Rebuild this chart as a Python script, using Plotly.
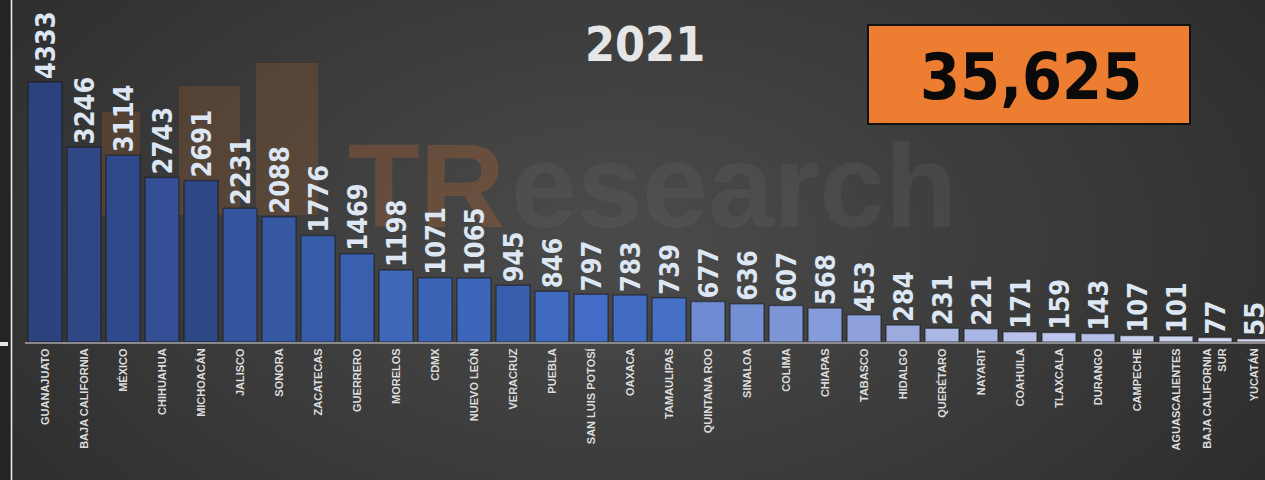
import plotly.graph_objects as go

# ---------------- data ----------------
estados = ["GUANAJUATO", "BAJA CALIFORNIA", "MÉXICO", "CHIHUAHUA", "MICHOACÁN",
           "JALISCO", "SONORA", "ZACATECAS", "GUERRERO", "MORELOS", "CDMX",
           "NUEVO LEÓN", "VERACRUZ", "PUEBLA", "SAN LUIS POTOSÍ", "OAXACA",
           "TAMAULIPAS", "QUINTANA ROO", "SINALOA", "COLIMA", "CHIAPAS",
           "TABASCO", "HIDALGO", "QUERÉTARO", "NAYARIT", "COAHUILA", "TLAXCALA",
           "DURANGO", "CAMPECHE", "AGUASCALIENTES", "BAJA CALIFORNIA<br>SUR",
           "YUCATÁN"]
homicidios = [4333, 3246, 3114, 2743, 2691, 2231, 2088, 1776, 1469, 1198, 1071,
              1065, 945, 846, 797, 783, 739, 677, 636, 607, 568, 453, 284, 231,
              221, 171, 159, 143, 107, 101, 77, 55]
anio = "2021"

# ---------------- style ----------------
bar_colors = ["#2c427c", "#2f4785", "#30498c", "#344f96", "#2e4785",
              "#35559e", "#3658a3", "#385ca8", "#3a5fae", "#3f67b8",
              "#3c64b6", "#3d66ba", "#3a5eae", "#4069c0", "#426cc5",
              "#426bc2", "#466fc6", "#6f8bd2", "#7390d4", "#7e96d7",
              "#869cda", "#8ea1da", "#9cabdd", "#abb7e3", "#aab6e3",
              "#b8c2ea", "#bcc5eb", "#b4bee8", "#c8d0ef", "#cdd4f0",
              "#d5dbf3", "#dce1f5"]
COND = "DejaVu Sans Condensed, DejaVu Sans, sans-serif"

W, H = 1265, 480
L, R, T, B = 25, 0, 0, 138
pw, ph = W - L - R, H - T - B


def px(x):
    return (x - L) / pw


def py(y):
    return (H - B - y) / ph


fig = go.Figure()
fig.add_trace(go.Bar(
    x=estados, y=homicidios,
    marker=dict(color=bar_colors, line=dict(color="rgba(25,25,25,0.55)", width=1.5)),
    text=[str(v) for v in homicidios],
    textposition="outside", textangle=-90,
    textfont=dict(family=COND, size=27, color="#dde6f3", weight="bold"),
    constraintext="none", cliponaxis=False,
    hoverinfo="x+y",
))

shapes = []
# background glow
n = 30
for i in range(n):
    f = 1 - i / n
    cx, cy = 620, 240
    rx, ry = 780 * f + 40, 440 * f + 30
    shapes.append(dict(type="circle", xref="paper", yref="paper", layer="below",
                       x0=px(cx - rx), x1=px(cx + rx), y0=py(cy + ry), y1=py(cy - ry),
                       fillcolor="rgba(255,255,255,0.0085)", line=dict(width=0)))
# logo watermark bars
for (x0, x1, y0) in [(102, 140, 112), (179, 240, 86), (256, 318, 63)]:
    shapes.append(dict(type="rect", xref="paper", yref="paper", layer="below",
                       x0=px(x0), x1=px(x1), y0=py(215), y1=py(y0),
                       fillcolor="rgba(175,100,45,0.24)", line=dict(width=0)))
# watermark text
shapes.append(dict(type="rect", xref="paper", yref="paper", layer="below",
                   x0=px(200), x1=px(508), y0=py(250), y1=py(100),
                   fillcolor="rgba(0,0,0,0)", line=dict(width=0),
                   label=dict(text="TR", textposition="middle right", padding=0,
                              font=dict(family="Liberation Sans, Arial, sans-serif", size=118,
                                        color="rgba(175,100,50,0.34)", weight="bold"))))
shapes.append(dict(type="rect", xref="paper", yref="paper", layer="below",
                   x0=px(508), x1=px(1100), y0=py(250), y1=py(100),
                   fillcolor="rgba(0,0,0,0)", line=dict(width=0),
                   label=dict(text="esearch", textposition="middle left", padding=0,
                              font=dict(family="Liberation Sans, Arial, sans-serif", size=118,
                                        color="rgba(110,110,110,0.20)", weight="bold"))))
# left strip + white line
shapes.append(dict(type="rect", xref="paper", yref="paper", layer="above",
                   x0=px(0), x1=px(11), y0=py(H), y1=py(0),
                   fillcolor="#242424", line=dict(width=0)))
shapes.append(dict(type="line", xref="paper", yref="paper", layer="above",
                   x0=px(11.5), x1=px(11.5), y0=py(H), y1=py(0),
                   line=dict(color="#f0f0f0", width=1.5)))
shapes.append(dict(type="rect", xref="paper", yref="paper", layer="above",
                   x0=px(0), x1=px(8), y0=py(346), y1=py(342),
                   fillcolor="#dfe8dc", line=dict(width=0)))
# total box
shapes.append(dict(type="rect", xref="paper", yref="paper", layer="above",
                   x0=px(868), x1=px(1190), y0=py(124), y1=py(25),
                   fillcolor="#ed7d31", line=dict(color="#111111", width=2)))

annotations = [
    dict(text=anio, xref="paper", yref="paper", x=px(645), y=py(44),
         xanchor="center", yanchor="middle", showarrow=False,
         font=dict(family=COND, size=48, color="#e6e6e6", weight="bold")),
    dict(text=f"{sum(homicidios):,}", xref="paper", yref="paper", x=px(1031), y=py(77),
         xanchor="center", yanchor="middle", showarrow=False,
         font=dict(family=COND, size=64, color="#0a0a0a", weight="bold")),
]

x_lo = (L - 45) / 39
x_hi = (W - 45) / 39
fig.update_layout(
    width=W, height=H,
    margin=dict(l=L, r=R, t=T, b=B, pad=0),
    paper_bgcolor="#2b2b2b", plot_bgcolor="rgba(0,0,0,0)",
    showlegend=False, bargap=5 / 39,
    shapes=shapes, annotations=annotations,
    xaxis=dict(range=[x_lo, x_hi], tickangle=-90, showgrid=False, zeroline=False,
               showline=True, linecolor="#8a8a8a", linewidth=2, ticks="",
               tickfont=dict(family="Liberation Sans, Arial, sans-serif", size=11,
                             color="#dcdcdc", weight="bold"),
               fixedrange=True),
    yaxis=dict(range=[0, 5700], visible=False, showgrid=False, zeroline=False,
               fixedrange=True),
)

fig.write_html(
    "out.html",
    config={"displayModeBar": False},
    post_script="document.body.style.margin='0';document.body.style.padding='0';"
                "document.documentElement.style.overflow='hidden';",
)
